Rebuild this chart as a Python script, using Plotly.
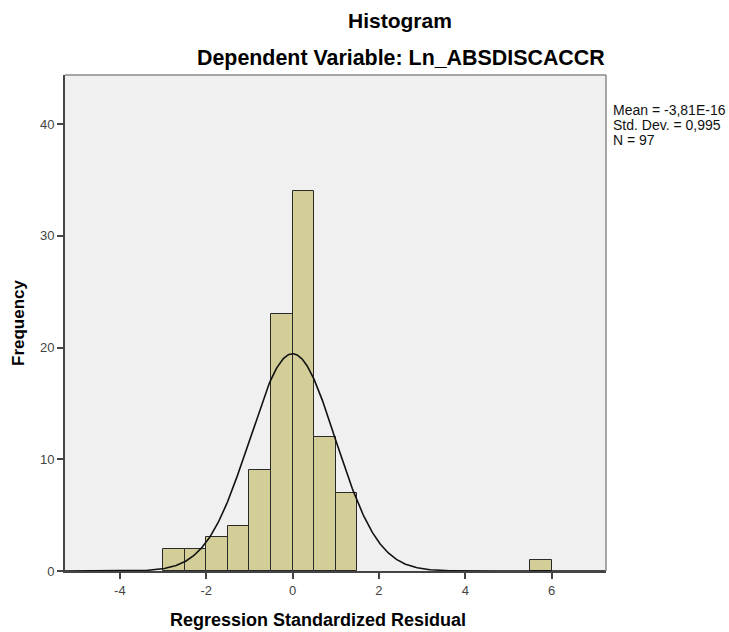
import numpy as np
import plotly.graph_objects as go

# Data
bin_left = [-3.0, -2.5, -2.0, -1.5, -1.0, -0.5, 0.0, 0.5, 1.0, 5.5]
counts = [2, 2, 3, 4, 9, 23, 34, 12, 7, 1]
bin_width = 0.5
stat_mean = -3.81e-16
stat_sd = 0.995
stat_n = 97
x_ticks = [-4, -2, 0, 2, 4, 6]
y_ticks = [0, 10, 20, 30, 40]
stats_lines = ["Mean = -3,81E-16", "Std. Dev. = 0,995", "N = 97"]

x_range = [-5.27, 7.26]
y_range = [0, 44.4]

centers = [b + bin_width / 2 for b in bin_left]

xc = np.linspace(x_range[0], x_range[1], 600)
yc = stat_n * bin_width / (stat_sd * np.sqrt(2 * np.pi)) * np.exp(-0.5 * ((xc - stat_mean) / stat_sd) ** 2)

FONT = "Liberation Sans, Arial, sans-serif"

fig = go.Figure()
fig.add_trace(go.Bar(
    x=centers, y=counts, width=bin_width,
    marker=dict(color="#D3CE98", line=dict(color="#2a2a2a", width=1)),
    hoverinfo="x+y",
))
fig.add_trace(go.Scatter(
    x=xc, y=yc, mode="lines",
    line=dict(color="#111111", width=1.6),
    hoverinfo="skip",
))

fig.update_layout(
    width=729, height=632,
    margin=dict(l=65, r=123, t=75, b=61),
    paper_bgcolor="white",
    plot_bgcolor="#F0F0F0",
    showlegend=False,
    bargap=0,
    font=dict(family=FONT, color="#333333"),
    xaxis=dict(
        range=x_range, tickvals=x_ticks, ticktext=[str(v) for v in x_ticks],
        showgrid=False, zeroline=False, showline=True, linecolor="#444444", linewidth=2,
        ticks="outside", ticklen=6, tickcolor="#444444", tickwidth=1.5,
        tickfont=dict(size=13, color="#444444", family=FONT),
    ),
    yaxis=dict(
        range=y_range, tickvals=y_ticks, ticktext=[str(v) for v in y_ticks],
        showgrid=False, zeroline=False, showline=True, linecolor="#444444", linewidth=2,
        ticks="outside", ticklen=6, tickcolor="#444444", tickwidth=1.5,
        tickfont=dict(size=13, color="#444444", family=FONT),
    ),
)

# lighter top and right frame lines
fig.add_shape(type="line", xref="paper", yref="paper", x0=0, x1=1, y0=1, y1=1,
              line=dict(color="#8a8a8a", width=1.5))
fig.add_shape(type="line", xref="paper", yref="paper", x0=1, x1=1, y0=0, y1=1,
              line=dict(color="#8a8a8a", width=1.5))

# titles
fig.add_annotation(text="<b>Histogram</b>", xref="paper", yref="paper",
                   x=(400 - 65) / 541, y=1 + (75 - 20) / 496, xanchor="center", yanchor="middle",
                   showarrow=False, font=dict(size=21, color="#000000", family=FONT))
fig.add_annotation(text="<b>Dependent Variable: Ln_ABSDISCACCR</b>", xref="paper", yref="paper",
                   x=(401 - 65) / 541, y=1 + (75 - 58) / 496, xanchor="center", yanchor="middle",
                   showarrow=False, font=dict(size=21.4, color="#000000", family=FONT))
fig.add_annotation(text="<b>Regression Standardized Residual</b>", xref="paper", yref="paper",
                   x=(318 - 65) / 541, y=-(620 - 571) / 496, xanchor="center", yanchor="middle",
                   showarrow=False, font=dict(size=18, color="#000000", family=FONT))
fig.add_annotation(text="<b>Frequency</b>", xref="paper", yref="paper",
                   x=-(65 - 18) / 541, y=(571 - 323) / 496, xanchor="center", yanchor="middle",
                   textangle=-90, showarrow=False, font=dict(size=17, color="#000000", family=FONT))

for i, line in enumerate(stats_lines):
    ypix = 110.5 + 14.5 * i
    fig.add_annotation(text=line, xref="paper", yref="paper",
                       x=1 + (611 - 606) / 541, y=(571 - ypix) / 496,
                       xanchor="left", yanchor="middle", showarrow=False,
                       font=dict(size=14, color="#111111", family=FONT))

fig.write_html("out.html", config={"displayModeBar": False},
               post_script="document.body.style.margin='0';document.body.style.overflow='hidden';")
